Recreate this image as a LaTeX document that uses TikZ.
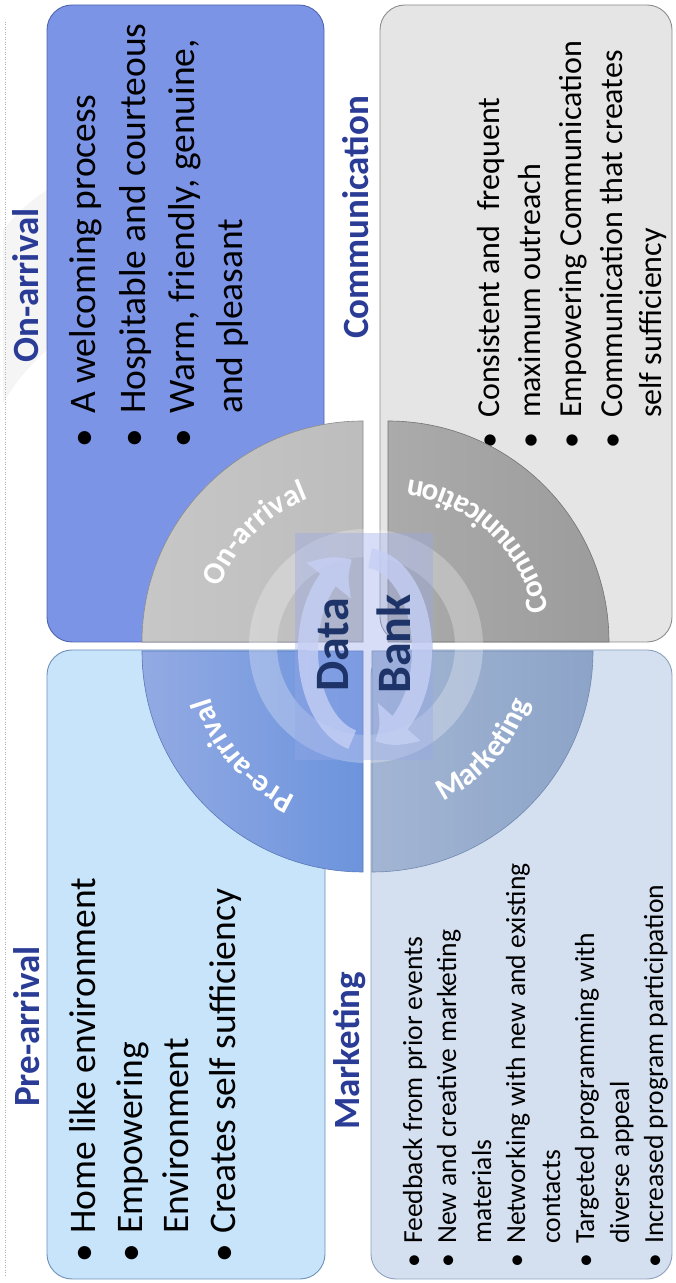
\documentclass[tikz,border=0pt]{standalone}
\usepackage{fontspec}
\setmainfont{Carlito}
\usetikzlibrary{arrows.meta,bending,decorations.text}

\definecolor{onfill}{RGB}{123,148,230}
\definecolor{onedge}{RGB}{80,100,175}
\definecolor{comfill}{RGB}{229,229,229}
\definecolor{comedge}{RGB}{140,140,140}
\definecolor{prefill}{RGB}{199,228,250}
\definecolor{preedge}{RGB}{110,145,185}
\definecolor{mktfill}{RGB}{212,224,239}
\definecolor{mktedge}{RGB}{140,160,190}
\definecolor{hdr}{RGB}{42,60,150}
\definecolor{navy}{RGB}{30,52,105}
\definecolor{arrowcol}{RGB}{198,208,245}
\definecolor{veil}{RGB}{150,168,232}

% bullet hanging in front of a line, #1 = gap to the text
\newcommand\bul[1]{\llap{\textbullet\hspace{#1pt}}}
\newcommand\qfont{\fontsize{31}{37}\selectfont\bfseries}

\begin{document}
\begin{tikzpicture}[x=1pt,y=1pt,
  panel/.style={draw, line width=0.9pt, rounded corners=25pt, inner sep=0pt},
  title/.style={rotate=90, anchor=base west, inner sep=0pt, text=hdr,
    font=\fontsize{37}{44}\selectfont\bfseries},
  bigitem/.style={rotate=90, anchor=base west, inner sep=0pt,
    font=\fontsize{37.5}{44}\selectfont},
  miditem/.style={rotate=90, anchor=base west, inner sep=0pt,
    font=\fontsize{32}{38}\selectfont},
  smallitem/.style={rotate=90, anchor=base west, inner sep=0pt,
    font=\fontsize{27.6}{33}\selectfont},
  rim/.style={line width=0.6pt},
  band/.style={line width=20pt, draw=arrowcol,
    -{Triangle[width=56pt,length=30pt,bend]}},
  core/.style={rotate=90, inner sep=0pt, text=navy,
    font=\fontsize{48}{56}\selectfont\bfseries},
  arclabel/.style={decorate, decoration={text along path, text align=center,
    text color=white, text={|\qfont|#1}}}
]
\useasboundingbox (0,0) rectangle (675,1283);
\fill[white] (0,0) rectangle (675,1283);

% faint swoosh and dotted margin rule
\fill[black!4] (3,1053) to[bend left=8] (47,1093) -- (47,933) to[bend right=8] (3,880) -- cycle;
\draw[gray!60, line width=0.8pt, dash pattern=on 1pt off 1.5pt] (5,1261) -- (5,8);

% the four panels
\node[panel, fill=onfill, draw=onedge, minimum width=277pt, minimum height=637pt] (onbox) at (185.5,959.5) {};
\node[panel, fill=comfill, draw=comedge, minimum width=292pt, minimum height=637pt] (combox) at (526,959.5) {};
\node[panel, fill=prefill, draw=preedge, minimum width=278pt, minimum height=629pt] (prebox) at (186,318.5) {};
\node[panel, fill=mktfill, draw=mktedge, minimum width=301pt, minimum height=629pt] (mktbox) at (521.5,318.5) {};

% titles
\node[title] (onh)  at (38,920)  {On-arrival};
\node[title] (comh) at (368,944) {Communication};
\node[title] (preh) at (39,176)  {Pre-arrival};
\node[title] (mkth) at (359,153) {Marketing};

% On-arrival items
\node[bigitem] (on1) at (95,869)  {\bul{15}A welcoming process};
\node[bigitem] (on2) at (145,869) {\bul{15}Hospitable and courteous};
\node[bigitem] (on3) at (194,869) {\bul{15}Warm, friendly, genuine,};
\node[bigitem] (on4) at (242,869) {and pleasant};

% Communication items
\node[miditem] (com1) at (499,865) {\bul{15}Consistent and\ \ frequent};
\node[miditem] (com2) at (540,865) {\bul{15}maximum outreach};
\node[miditem] (com3) at (581,865) {\bul{15}Empowering Communication};
\node[miditem] (com4) at (622,865) {\bul{15}Communication that creates};
\node[miditem] (com5) at (661,865) {self sufficiency};

% Pre-arrival items
\node[bigitem] (pre1) at (95,49)  {\bul{10}Home like environment};
\node[bigitem] (pre2) at (142,49) {\bul{10}Empowering};
\node[bigitem] (pre3) at (188,49) {Environment};
\node[bigitem] (pre4) at (235,49) {\bul{10}Creates self sufficiency};

% Marketing items
\node[smallitem] (mkt1) at (422,39) {\bul{10}Feedback from prior events};
\node[smallitem] (mkt2) at (456,39) {\bul{10}New and creative marketing};
\node[smallitem] (mkt3) at (491,39) {materials};
\node[smallitem] (mkt4) at (525,39) {\bul{10}Networking with new and existing};
\node[smallitem] (mkt5) at (560,39) {contacts};
\node[smallitem] (mkt6) at (594,39) {\bul{10}Targeted programming with};
\node[smallitem] (mkt7) at (629,39) {diverse appeal};
\node[smallitem] (mkt8) at (663,39) {\bul{10}Increased program participation};

% quarter discs
\path[rim, draw=black!45, left color=black!22, right color=black!26]
  (363,641) -- ++(-221,0) arc[start angle=180, end angle=90, radius=221] -- cycle;
\path[rim, draw=black!55, left color=black!33, right color=black!39]
  (388,641) -- ++(221,0) arc[start angle=0, end angle=90, radius=221] -- cycle;
\path[rim, draw={rgb,255:red,90;green,120;blue,184}, left color={rgb,255:red,147;green,170;blue,227}, right color={rgb,255:red,108;green,148;blue,221}]
  (363,632) -- ++(-221,0) arc[start angle=180, end angle=270, radius=221] -- cycle;
\path[rim, draw={rgb,255:red,112;green,136;blue,176}, left color={rgb,255:red,163;green,181;blue,211}, right color={rgb,255:red,140;green,164;blue,200}]
  (372,632) -- ++(221,0) arc[start angle=0, end angle=-90, radius=221] -- cycle;

% light ring and veil behind the hub
\fill[white, fill opacity=0.27, even odd rule] (366,637) circle[radius=117] circle[radius=89];
\fill[veil, fill opacity=0.38] (295,523) rectangle (433,750);

% cycling arrows
\coordinate (hub) at (365,633);
\begin{scope}[transparency group, opacity=0.78]
  \draw[band] ([shift={(257:57 and 92)}]hub) arc[start angle=257, end angle=103, x radius=57, y radius=92];
  \draw[band] ([shift={(85:57 and 92)}]hub) arc[start angle=85, end angle=-80, x radius=57, y radius=92];
\end{scope}

\node[core] (data) at (333.5,638) {Data};
\node[core] (bank) at (393.5,639) {Bank};

% curved labels on the quarter discs
\path[arclabel=On-arrival] ([shift={(180:153)}]363,641) arc[start angle=180, end angle=90, radius=153];
\path[arclabel=Communication] ([shift={(2:163.5)}]388,641) arc[start angle=2, end angle=92, radius=163.5];
\path[arclabel=Pre-arrival] ([shift={(266:160)}]363,632) arc[start angle=266, end angle=176, radius=160];
\path[arclabel=Marketing] ([shift={(-86.5:165.5)}]372,632) arc[start angle=-86.5, end angle=3.5, radius=165.5];
\end{tikzpicture}
\end{document}
